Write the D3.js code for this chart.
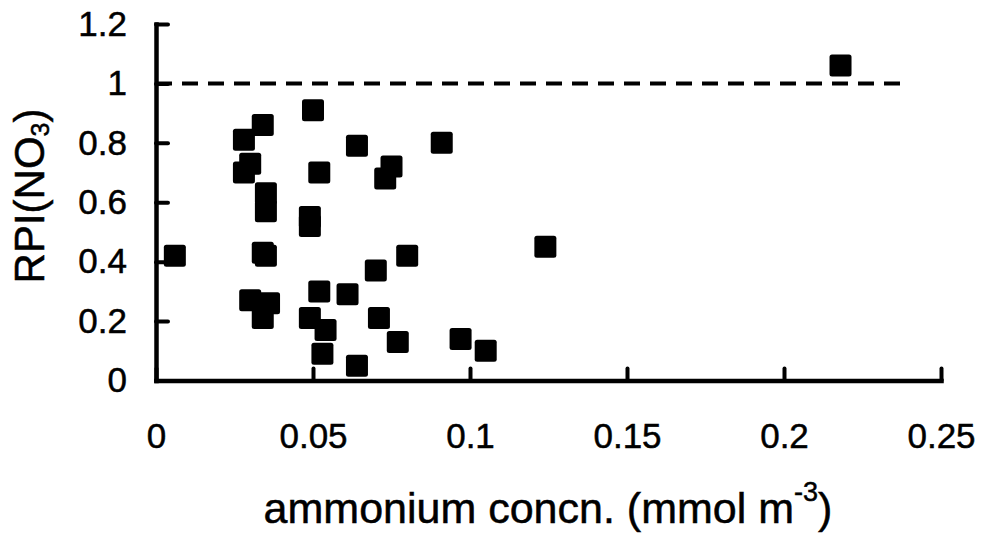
<!DOCTYPE html>
<html>
<head>
<meta charset="utf-8">
<script src="https://cdn.jsdelivr.net/npm/d3@7"></script>
<style>
  html, body { margin: 0; padding: 0; background: #fff; }
  svg { display: block; }
  text { font-family: "Liberation Sans", Arial, Helvetica, sans-serif; fill: #000; }
</style>
</head>
<body>
<svg id="chart" width="983" height="533"></svg>
<script>
// Ammonium concentration (mmol m^-3) for each sample
const ammonium = [
  0.006, 0.028, 0.034, 0.030, 0.028, 0.035, 0.035, 0.034, 0.035,
  0.030, 0.036, 0.034, 0.050, 0.049, 0.049, 0.052, 0.052, 0.049,
  0.054, 0.053, 0.064, 0.061, 0.064, 0.070, 0.071, 0.073, 0.075,
  0.077, 0.080, 0.091, 0.124, 0.097, 0.105, 0.218
];
// Relative preference index for nitrate of each sample
const rpiNO3 = [
  0.42, 0.81, 0.86, 0.73, 0.70, 0.63, 0.57, 0.43, 0.42,
  0.27, 0.26, 0.21, 0.91, 0.55, 0.52, 0.70, 0.30, 0.21,
  0.17, 0.09, 0.79, 0.29, 0.05, 0.37, 0.21, 0.68, 0.72,
  0.13, 0.42, 0.80, 0.45, 0.14, 0.10, 1.06
];
// Tick values
const xTicks = [0, 0.05, 0.1, 0.15, 0.2, 0.25];
const yTicks = [0, 0.2, 0.4, 0.6, 0.8, 1, 1.2];
// Reference line RPI = 1
const refLevel = 1;
const refExtent = [0, 0.24];

const svg = d3.select("#chart");

const x = d3.scaleLinear().domain([0, 0.25]).range([156, 941]);
const y = d3.scaleLinear().domain([0, 1.2]).range([380.5, 24]);

const fmt = d => String(+d.toFixed(2));

// Reference dashed line
svg.append("line")
  .attr("x1", x(refExtent[0])).attr("x2", x(refExtent[1]))
  .attr("y1", y(refLevel)).attr("y2", y(refLevel))
  .attr("stroke", "#000").attr("stroke-width", 4)
  .attr("stroke-dasharray", "16 10");

// Data markers (filled squares)
const size = 22;
svg.append("g").selectAll("rect")
  .data(ammonium.map((a, i) => [a, rpiNO3[i]]))
  .join("rect")
  .attr("x", d => x(d[0]) - size / 2)
  .attr("y", d => y(d[1]) - size / 2)
  .attr("width", size).attr("height", size)
  .attr("rx", 2.5)
  .attr("fill", "#000");

// Axes
const xAxis = svg.append("g")
  .attr("transform", `translate(0,${y(0)})`)
  .call(d3.axisBottom(x).tickValues(xTicks).tickFormat(fmt)
    .tickSizeInner(-12).tickSizeOuter(0).tickPadding(43));
const yAxis = svg.append("g")
  .attr("transform", `translate(${x(0)},0)`)
  .call(d3.axisLeft(y).tickValues(yTicks).tickFormat(fmt)
    .tickSizeInner(-12).tickSizeOuter(0).tickPadding(29));

[xAxis, yAxis].forEach(g => {
  g.select(".domain").attr("stroke", "#000").attr("stroke-width", 4.5)
    .attr("stroke-linecap", "square");
  g.selectAll(".tick line").attr("stroke", "#000").attr("stroke-width", 4)
    .attr("stroke-linecap", "round");
  g.selectAll(".tick text").attr("font-size", 35)
    .attr("font-family", "'Liberation Sans', Arial, sans-serif").attr("fill", "#000")
    .attr("stroke", "#000").attr("stroke-width", 0.5);
});

// X axis title
const xt = svg.append("text")
  .attr("x", 548).attr("y", 523)
  .attr("text-anchor", "middle")
  .attr("font-size", 43)
  .attr("stroke", "#000").attr("stroke-width", 0.5);
xt.append("tspan").text("ammonium concn. (mmol m");
xt.append("tspan").attr("font-size", 27).attr("dy", -22).text("-3");
xt.append("tspan").attr("dy", 22).text(")");

// Y axis title
const yt = svg.append("text")
  .attr("transform", "translate(44,196) rotate(-90)")
  .attr("text-anchor", "middle")
  .attr("font-size", 42)
  .attr("stroke", "#000").attr("stroke-width", 0.5);
yt.append("tspan").text("RPI(NO");
yt.append("tspan").attr("font-size", 25).attr("dy", 5).text("3");
yt.append("tspan").attr("dy", -5).text(")");
</script>
</body>
</html>
